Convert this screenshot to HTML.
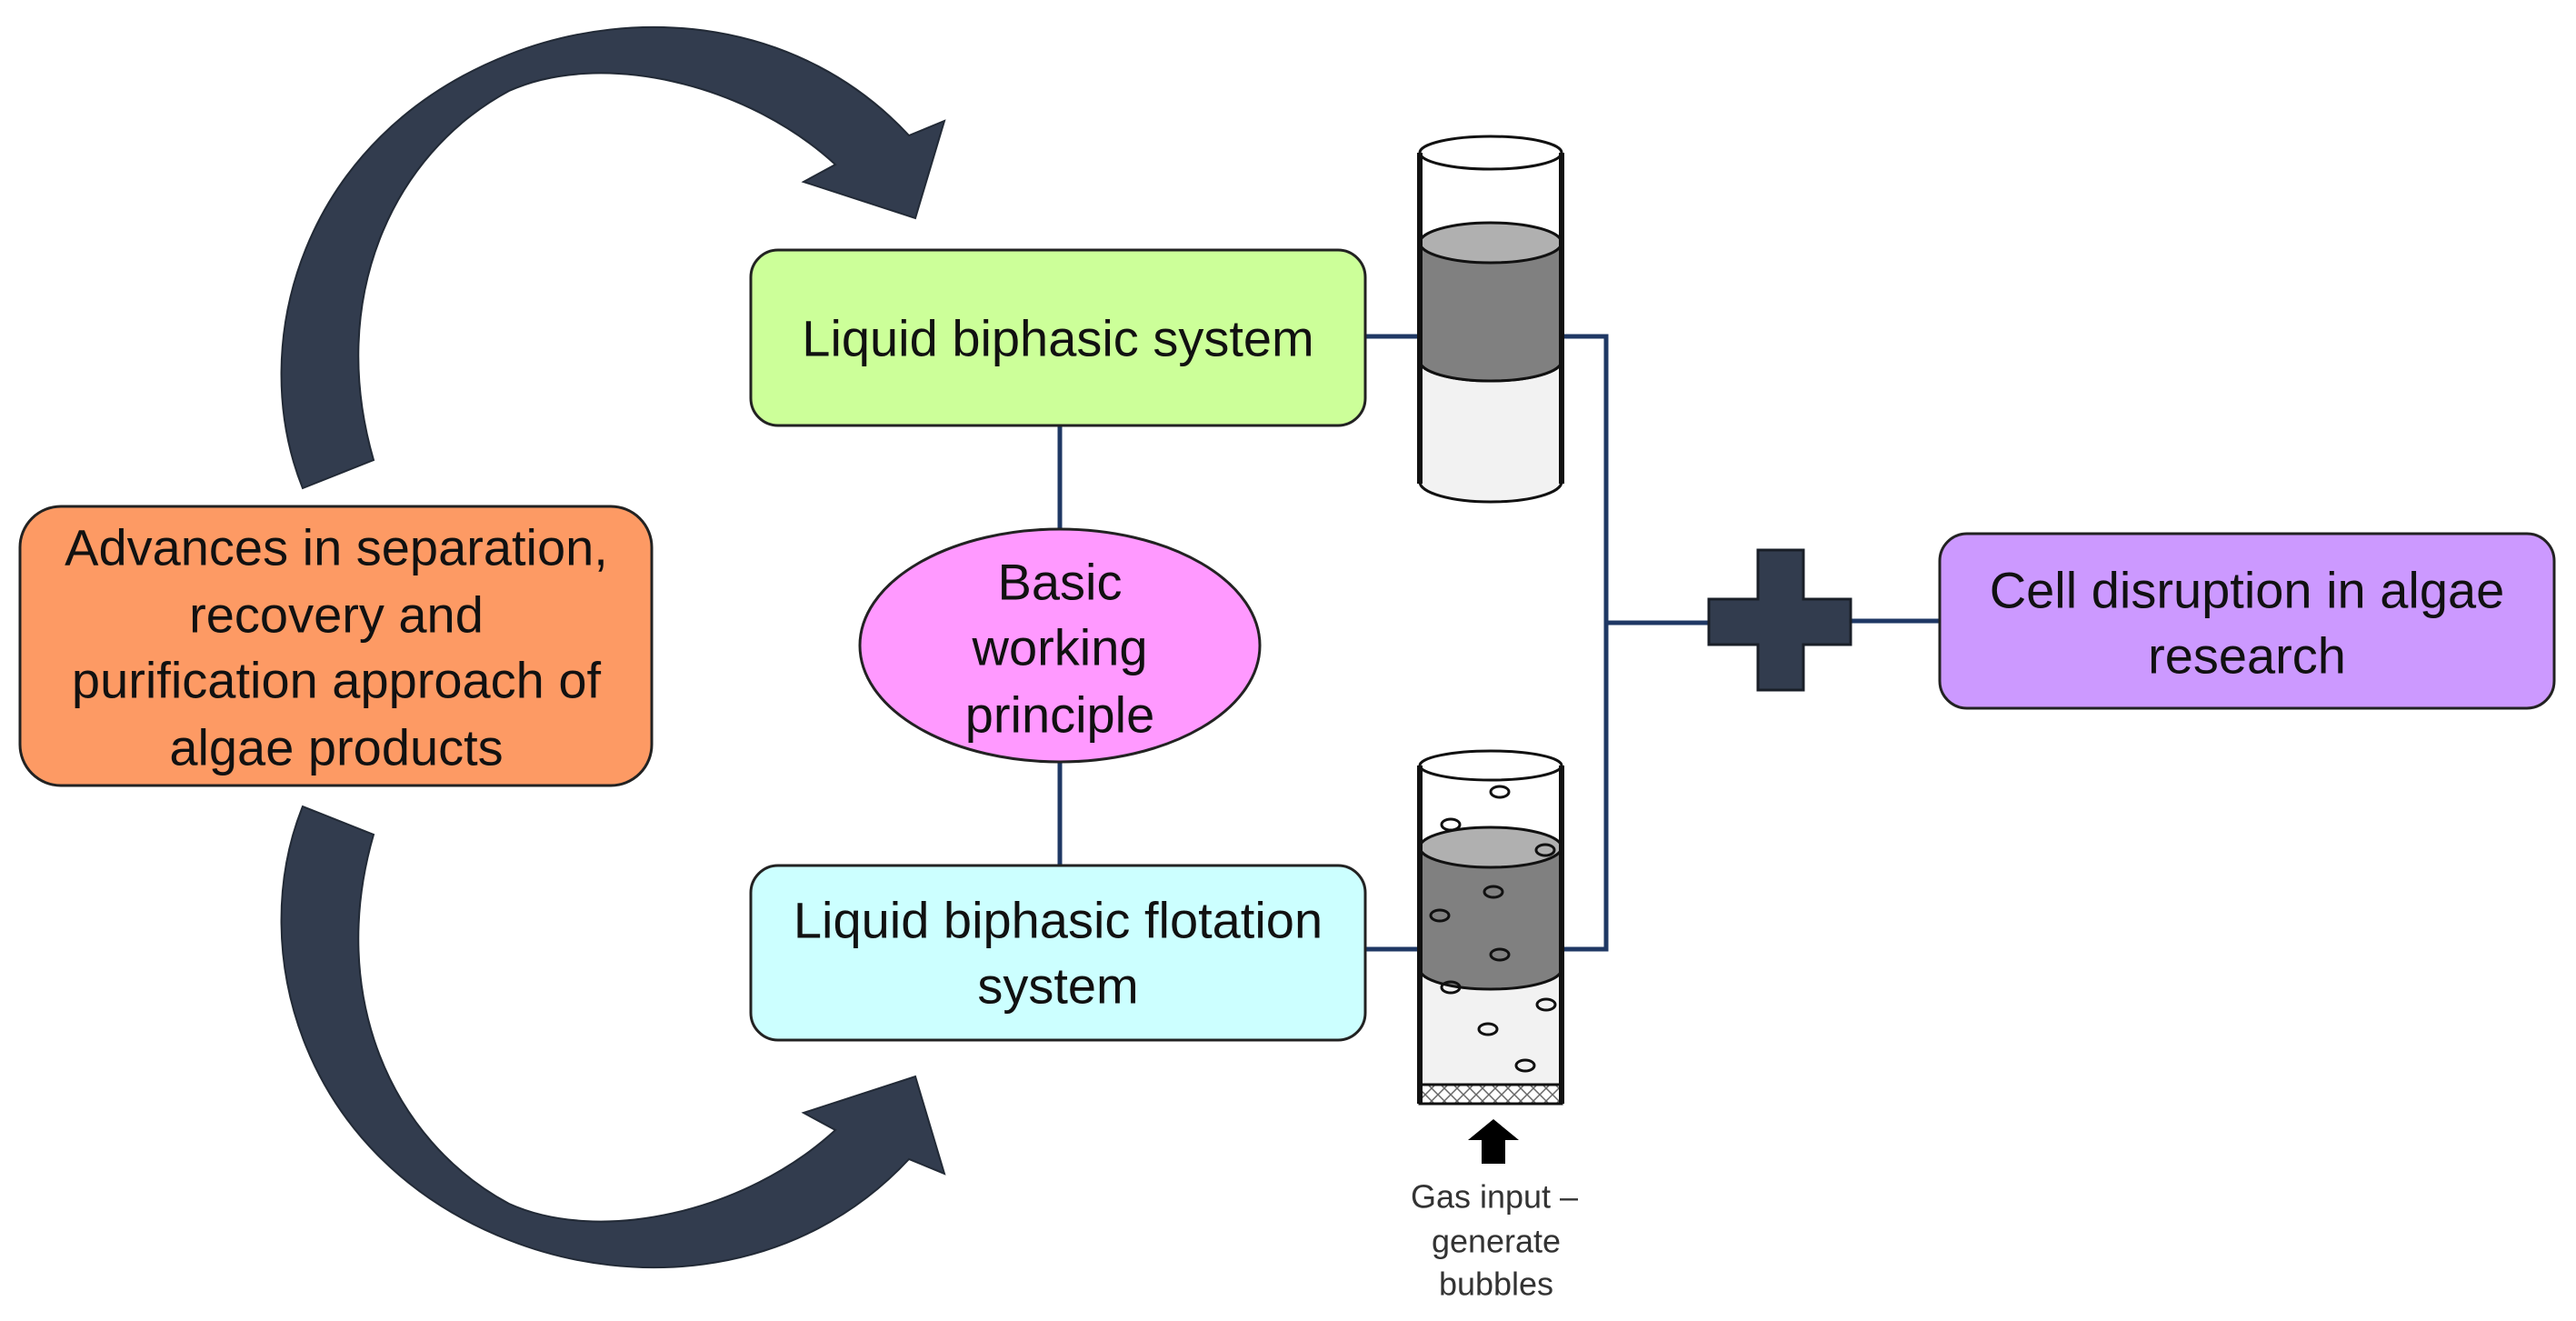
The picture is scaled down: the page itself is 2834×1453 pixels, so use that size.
<!DOCTYPE html>
<html><head><meta charset="utf-8"><style>
html,body{margin:0;padding:0;background:#fff;}
svg{display:block;}
text{font-family:"Liberation Sans",sans-serif;fill:#111;}
</style></head><body>
<svg width="2834" height="1453" viewBox="0 0 2834 1453" xmlns="http://www.w3.org/2000/svg">
<defs>
<pattern id="hatch" width="14" height="14" patternUnits="userSpaceOnUse">
<rect width="14" height="14" fill="#fff"/>
<path d="M0 0L14 14M14 0L0 14" stroke="#666" stroke-width="1.5"/>
</pattern>
</defs>

<!-- curved arrows -->
<path d="M333 537 C270 380 330 150 560 60 C700 5 880 20 1000 149 L1039 133 L1007 240 L884 200 L919 181 C820 90 660 55 560 100 C430 170 360 330 411 506 Z" fill="#323c4e" stroke="#222a36" stroke-width="2"/>
<path d="M333 887 C270 1044 330 1274 560 1364 C700 1419 880 1404 1000 1275 L1039 1291 L1007 1184 L884 1224 L919 1243 C820 1334 660 1369 560 1324 C430 1254 360 1094 411 918 Z" fill="#323c4e" stroke="#222a36" stroke-width="2"/>

<!-- connectors -->
<g stroke="#1f3864" stroke-width="5" fill="none">
<line x1="1166" y1="468" x2="1166" y2="582"/>
<line x1="1166" y1="838" x2="1166" y2="952"/>
<line x1="1502" y1="370" x2="1561" y2="370"/>
<line x1="1502" y1="1044" x2="1561" y2="1044"/>
<polyline points="1718,370 1767,370 1767,1044 1718,1044"/>
<line x1="1767" y1="685" x2="1880" y2="685"/>
<line x1="2036" y1="683" x2="2134" y2="683"/>
</g>

<!-- plus -->
<path d="M1934 605 H1984 V659 H2036 V709 H1984 V759 H1934 V709 H1880 V659 H1934 Z" fill="#323c4e" stroke="#1a1f28" stroke-width="3"/>

<!-- boxes -->
<rect x="22" y="557" width="695" height="307" rx="45" fill="#fd9a64" stroke="#222" stroke-width="3"/>
<rect x="826" y="275" width="676" height="193" rx="30" fill="#ccff99" stroke="#222" stroke-width="3"/>
<rect x="826" y="952" width="676" height="192" rx="30" fill="#ccffff" stroke="#222" stroke-width="3"/>
<ellipse cx="1166" cy="710" rx="220" ry="128" fill="#ff99ff" stroke="#222" stroke-width="3"/>
<rect x="2134" y="587" width="676" height="192" rx="30" fill="#cc99ff" stroke="#222" stroke-width="3"/>

<!-- text -->
<g font-size="56" text-anchor="middle" dominant-baseline="central">
<text x="370" y="602">Advances in separation,</text>
<text x="370" y="676">recovery and</text>
<text x="370" y="748">purification approach of</text>
<text x="370" y="822">algae products</text>
<text x="1164" y="372">Liquid biphasic system</text>
<text x="1164" y="1012">Liquid biphasic flotation</text>
<text x="1164" y="1084">system</text>
<text x="1166" y="640">Basic</text>
<text x="1166" y="712">working</text>
<text x="1166" y="786">principle</text>
<text x="2472" y="649">Cell disruption in algae</text>
<text x="2472" y="721">research</text>
</g>

<!-- cylinder 1 -->
<g stroke="#111" stroke-width="3">
<path d="M1562 397 A78 22 0 0 0 1718 397 V530 A78 22 0 0 1 1562 530 Z" fill="#f2f2f2"/>
<path d="M1562 267 V397 A78 22 0 0 0 1718 397 V267 Z" fill="#808080"/>
<ellipse cx="1640" cy="267" rx="78" ry="22" fill="#b0b0b0"/>
<ellipse cx="1640" cy="168" rx="78" ry="18" fill="#fff"/>
</g>
<g stroke="#111" stroke-width="6">
<line x1="1562" y1="168" x2="1562" y2="532"/>
<line x1="1718" y1="168" x2="1718" y2="532"/>
</g>

<!-- cylinder 2 -->
<g stroke="#111" stroke-width="3">
<rect x="1562" y="1066" width="156" height="127" fill="#f2f2f2" stroke="none"/>
<path d="M1562 932 V1066 A78 22 0 0 0 1718 1066 V932 Z" fill="#808080"/>
<ellipse cx="1640" cy="932" rx="78" ry="22" fill="#b0b0b0"/>
<ellipse cx="1640" cy="842" rx="78" ry="16" fill="#fff"/>
<rect x="1562" y="1193" width="156" height="21" fill="url(#hatch)"/>
</g>
<g stroke="#111" stroke-width="6">
<line x1="1562" y1="842" x2="1562" y2="1214"/>
<line x1="1718" y1="842" x2="1718" y2="1214"/>
</g>
<g fill="none" stroke="#111" stroke-width="3">
<ellipse cx="1650" cy="871" rx="10" ry="6"/>
<ellipse cx="1596" cy="907" rx="10" ry="6"/>
<ellipse cx="1700" cy="935" rx="10" ry="6"/>
<ellipse cx="1643" cy="981" rx="10" ry="6"/>
<ellipse cx="1584" cy="1007" rx="10" ry="6"/>
<ellipse cx="1650" cy="1050" rx="10" ry="6"/>
<ellipse cx="1596" cy="1086" rx="10" ry="6"/>
<ellipse cx="1637" cy="1132" rx="10" ry="6"/>
<ellipse cx="1701" cy="1105" rx="10" ry="6"/>
<ellipse cx="1678" cy="1172" rx="10" ry="6"/>
</g>

<!-- gas arrow -->
<path d="M1643 1231 L1671 1254 H1656 V1280 H1630 V1254 H1615 Z" fill="#000"/>
<g font-size="36" text-anchor="middle" dominant-baseline="central">
<text x="1644" y="1316" style="fill:#333">Gas input –</text>
<text x="1646" y="1365" style="fill:#333">generate</text>
<text x="1646" y="1412" style="fill:#333">bubbles</text>
</g>
</svg>
</body></html>
